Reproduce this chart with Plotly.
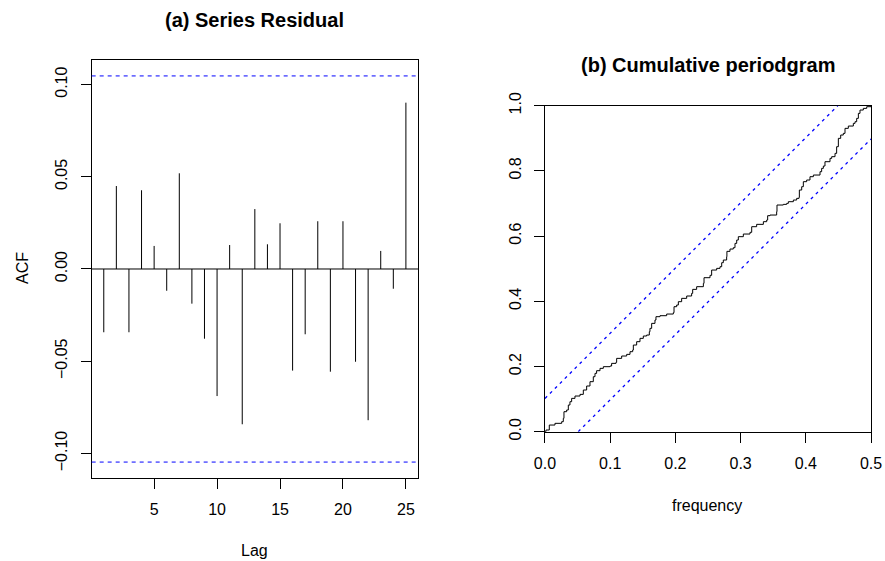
import plotly.graph_objects as go

# ---------------- data ----------------
lags = list(range(1, 26))
acf_values = [-0.0343, 0.0450, -0.0343, 0.0427, 0.0125, -0.0118, 0.0519, -0.0188,
              -0.0378, -0.0689, 0.0130, -0.0842, 0.0325, 0.0134, 0.0248, -0.0551,
              -0.0354, 0.0259, -0.0557, 0.0259, -0.0503, -0.0820, 0.0098, -0.0107,
              0.0902]
acf_clim = 0.1047

cp_freq = [0.0, 0.0015, 0.0066, 0.0153, 0.0256, 0.0281, 0.0291, 0.0332, 0.0358, 0.0383,
           0.0409, 0.0460, 0.0537, 0.0588, 0.0639, 0.0690, 0.0741, 0.0767, 0.0792, 0.0844,
           0.0895, 0.0997, 0.1022, 0.1089, 0.1099, 0.1176, 0.1253, 0.1304, 0.1345, 0.1355,
           0.1406, 0.1457, 0.1508, 0.1559, 0.1600, 0.1610, 0.1636, 0.1687, 0.1702, 0.1764,
           0.1866, 0.1968, 0.1979, 0.2019, 0.2045, 0.2096, 0.2173, 0.2249, 0.2265, 0.2326,
           0.2429, 0.2439, 0.2531, 0.2556, 0.2633, 0.2684, 0.2710, 0.2735, 0.2786, 0.2790,
           0.2837, 0.2888, 0.2914, 0.2940, 0.2965, 0.3042, 0.3144, 0.3170, 0.3246, 0.3349,
           0.3400, 0.3415, 0.3451, 0.3553, 0.3558, 0.3655, 0.3707, 0.3732, 0.3809, 0.3860,
           0.3896, 0.3901, 0.3937, 0.3962, 0.4013, 0.4064, 0.4116, 0.4218, 0.4243, 0.4269,
           0.4294, 0.4371, 0.4397, 0.4448, 0.4473, 0.4499, 0.4535, 0.4575, 0.4601, 0.4652,
           0.4729, 0.4755, 0.4780, 0.4806, 0.4831, 0.4882, 0.4934, 0.5000]
cp_cum = [0.0, 0.0051, 0.0204, 0.0256, 0.0307, 0.0409, 0.0613, 0.0665, 0.0818, 0.0920,
          0.1022, 0.1094, 0.1145, 0.1278, 0.1401, 0.1534, 0.1687, 0.1789, 0.1871, 0.1943,
          0.1994, 0.2014, 0.2096, 0.2127, 0.2249, 0.2321, 0.2372, 0.2454, 0.2505, 0.2658,
          0.2761, 0.2863, 0.2935, 0.2965, 0.3067, 0.3170, 0.3323, 0.3425, 0.3528, 0.3558,
          0.3609, 0.3650, 0.3834, 0.3885, 0.3988, 0.4090, 0.4162, 0.4243, 0.4366, 0.4448,
          0.4550, 0.4724, 0.4796, 0.4959, 0.5010, 0.5061, 0.5184, 0.5266, 0.5368, 0.5532,
          0.5603, 0.5644, 0.5777, 0.5879, 0.5982, 0.6063, 0.6115, 0.6288, 0.6360, 0.6442,
          0.6493, 0.6626, 0.6646, 0.6748, 0.6953, 0.6973, 0.7004, 0.7055, 0.7106, 0.7157,
          0.7188, 0.7413, 0.7515, 0.7669, 0.7720, 0.7822, 0.7873, 0.7975, 0.8078, 0.8149,
          0.8282, 0.8384, 0.8436, 0.8538, 0.8742, 0.8998, 0.9100, 0.9151, 0.9305, 0.9376,
          0.9458, 0.9509, 0.9611, 0.9765, 0.9867, 0.9918, 0.9969, 1.0000]
cp_crit = 0.102
cp_xmax = 0.5

lag_ticks = [5, 10, 15, 20, 25]
acf_ticks = [-0.10, -0.05, 0.00, 0.05, 0.10]
freq_ticks = [0.0, 0.1, 0.2, 0.3, 0.4, 0.5]
cum_ticks = [0.0, 0.2, 0.4, 0.6, 0.8, 1.0]

# ---------------- figure ----------------
FONT = "Liberation Sans, Arial, Helvetica, sans-serif"
BLUE = "#0000ff"
fig = go.Figure()

# ACF spikes
sx, sy = [], []
for l, v in zip(lags, acf_values):
    sx += [l, l, None]
    sy += [0, v, None]
fig.add_trace(go.Scatter(x=sx, y=sy, mode="lines", line=dict(color="black", width=1),
                         xaxis="x", yaxis="y", showlegend=False, hoverinfo="skip"))

# cumulative periodogram step line
fig.add_trace(go.Scatter(x=cp_freq, y=cp_cum, mode="lines",
                         line=dict(color="black", width=1, shape="hv"),
                         xaxis="x2", yaxis="y2", showlegend=False))

dash = dict(color=BLUE, width=1, dash="4px,4px")
dash_diag = dict(color=BLUE, width=1.3, dash="3px,4px")
shapes = [
    dict(type="line", xref="x domain", yref="y", x0=0, x1=1, y0=0, y1=0,
         line=dict(color="black", width=1), layer="below"),
    dict(type="line", xref="x domain", yref="y", x0=0, x1=1, y0=acf_clim, y1=acf_clim,
         line=dash),
    dict(type="line", xref="x domain", yref="y", x0=0, x1=1, y0=-acf_clim, y1=-acf_clim,
         line=dash),
    # KS bounds
    dict(type="line", xref="x2", yref="y2", x0=0, y0=cp_crit,
         x1=cp_xmax * (1 - cp_crit), y1=1, line=dash_diag),
    dict(type="line", xref="x2", yref="y2", x0=cp_xmax * cp_crit, y0=0,
         x1=cp_xmax, y1=1 - cp_crit, line=dash_diag),
]

axis_common = dict(showgrid=False, zeroline=False, showline=True, mirror=True,
                   linecolor="black", linewidth=1, ticks="outside", ticklen=10,
                   tickcolor="black", tickwidth=1, automargin=False,
                   ticklabelstandoff=7,
                   tickfont=dict(family=FONT, size=16, color="black"))

rng = max(abs(min(acf_values)), max(acf_values), acf_clim)
pad = 0.04 * 2 * rng

fig.update_layout(
    width=885, height=561,
    margin=dict(l=0, r=0, t=0, b=0),
    paper_bgcolor="white", plot_bgcolor="white",
    showlegend=False,
    xaxis=dict(domain=[0.1036, 0.4723], anchor="y", range=[1 - 0.96, 25 + 0.96],
               tickvals=lag_ticks, **axis_common),
    yaxis=dict(domain=[0.1488, 0.8922], anchor="x", range=[-rng - pad, rng + pad],
               tickvals=acf_ticks, tickformat=".2f", tickangle=-90, **axis_common),
    xaxis2=dict(domain=[0.6158, 0.9842], anchor="y2", range=[0, 0.5],
                tickvals=freq_ticks, tickformat=".1f", **axis_common),
    yaxis2=dict(domain=[0.2305, 0.8116], anchor="x2", range=[0, 1],
                tickvals=cum_ticks, tickformat=".1f", tickangle=-90, **axis_common),
    shapes=shapes,
    annotations=[
        dict(text="<b>(a) Series Residual</b>", x=0.2880, y=1 - 20 / 561, xref="paper",
             yref="paper", showarrow=False, xanchor="center", yanchor="middle",
             font=dict(family=FONT, size=20, color="black")),
        dict(text="<b>(b) Cumulative periodgram</b>", x=0.8000, y=1 - 65 / 561,
             xref="paper", yref="paper", showarrow=False, xanchor="center",
             yanchor="middle", font=dict(family=FONT, size=20, color="black")),
        dict(text="Lag", x=254 / 885, y=1 - 550 / 561, xref="paper", yref="paper",
             showarrow=False, xanchor="center", yanchor="middle",
             font=dict(family=FONT, size=16, color="black")),
        dict(text="ACF", x=22 / 885, y=1 - 268 / 561, xref="paper", yref="paper",
             showarrow=False, xanchor="center", yanchor="middle", textangle=-90,
             font=dict(family=FONT, size=16, color="black")),
        dict(text="frequency", x=707 / 885, y=1 - 505 / 561, xref="paper", yref="paper",
             showarrow=False, xanchor="center", yanchor="middle",
             font=dict(family=FONT, size=16, color="black")),
    ],
)

fig.write_html("out.html",
               config={"displayModeBar": False},
               post_script="document.body.style.margin='0';"
                           "document.body.style.overflow='hidden';")
